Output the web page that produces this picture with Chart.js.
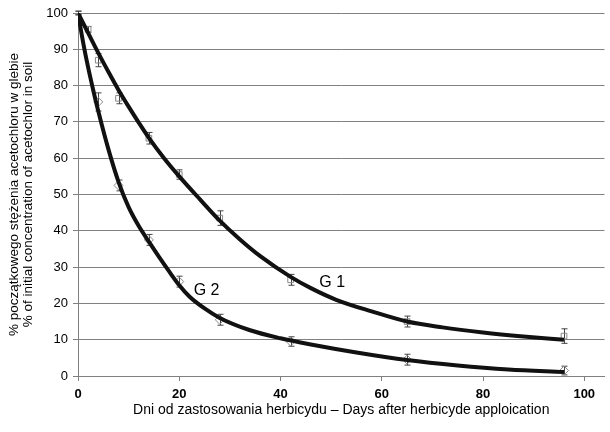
<!DOCTYPE html>
<html><head><meta charset="utf-8">
<script src="https://cdn.jsdelivr.net/npm/chart.js@4/dist/chart.umd.min.js"></script>
<style>html,body{margin:0;padding:0;background:#fff}#wrap{width:610px;height:432px;position:relative}</style>
</head><body><div id="wrap"><canvas id="c" width="610" height="432"></canvas></div>
<script>
const xTicks = [0, 20, 40, 60, 80, 100];
const yTicks = [0, 10, 20, 30, 40, 50, 60, 70, 80, 90, 100];

const g1Days   = [0, 2, 4, 8, 14, 20, 28, 42, 65, 96];
const g1Values = [100, 95.5, 87, 76.5, 65.5, 55.5, 43.5, 26.5, 15, 11];
const g1Errors = [0.5, 0.8, 1.8, 1.5, 1.6, 1.3, 2, 1.5, 1.5, 2];

const g2Days   = [0, 4, 8, 14, 20, 28, 42, 65, 96];
const g2Values = [100, 75.5, 52.5, 37.5, 26, 15.5, 9.5, 4.5, 1.5];
const g2Errors = [0.5, 2.5, 1.5, 1.5, 1.5, 1.5, 1.3, 1.5, 1.2];

const g1CurveDays   = [0, 2, 4, 6, 8, 10, 12, 14, 17, 20, 24, 28, 32, 36, 42, 46, 51, 58, 65, 72, 80, 88, 96];
const g1CurveValues = [100, 94.5, 89, 83.8, 78.8, 74.2, 69.8, 65.6, 60, 55, 48.8, 42.8, 37.6, 33, 27.3, 24.2, 21, 17.8, 15, 13.4, 12, 10.9, 10];

const g2CurveDays   = [0, 1, 2, 3, 4, 6, 8, 10, 12, 14, 16, 18, 20, 22, 25, 28, 34, 40, 46, 55, 65, 75, 85, 96];
const g2CurveValues = [100, 92, 85, 78.8, 73, 62.5, 53.5, 46.5, 41.3, 37, 32.8, 28.8, 25, 21.9, 18.6, 16, 12.6, 10.4, 8.7, 6.5, 4.4, 2.9, 1.8, 1.1];

const seriesLabels = [
  {text: 'G 1', day: 50.2, value: 25.6},
  {text: 'G 2', day: 25.4, value: 23.4}
];

const FONT = "'Liberation Sans', Arial, sans-serif";

const toPts = (xs, ys) => xs.map((x, i) => ({x, y: ys[i]}));

const errorBars = {
  id: 'errorBars',
  beforeDatasetsDraw(chart) {
    const {ctx, scales: {x, y}} = chart;
    ctx.save();
    ctx.strokeStyle = '#444';
    ctx.lineWidth = 1;
    const draw = (days, vals, errs) => {
      days.forEach((d, i) => {
        const px = Math.round(x.getPixelForValue(d)) + 0.5;
        const t = y.getPixelForValue(vals[i] + errs[i]);
        const b = y.getPixelForValue(vals[i] - errs[i]);
        ctx.beginPath();
        ctx.moveTo(px, t); ctx.lineTo(px, b);
        ctx.moveTo(px - 3, t); ctx.lineTo(px + 3, t);
        ctx.moveTo(px - 3, b); ctx.lineTo(px + 3, b);
        ctx.stroke();
      });
    };
    draw(g1Days, g1Values, g1Errors);
    draw(g2Days, g2Values, g2Errors);
    ctx.restore();
  },
  afterDatasetsDraw(chart) {
    const {ctx, scales: {x, y}} = chart;
    ctx.save();
    ctx.fillStyle = '#000';
    ctx.font = "16px " + FONT;
    ctx.textAlign = 'center';
    ctx.textBaseline = 'middle';
    seriesLabels.forEach(l => ctx.fillText(l.text, x.getPixelForValue(l.day), y.getPixelForValue(l.value)));
    ctx.restore();
  }
};

new Chart(document.getElementById('c'), {
  type: 'scatter',
  data: {
    datasets: [
      {data: toPts(g1CurveDays, g1CurveValues), showLine: true, borderColor: '#111', borderWidth: 4, pointRadius: 0, cubicInterpolationMode: 'monotone', order: 0},
      {data: toPts(g2CurveDays, g2CurveValues), showLine: true, borderColor: '#111', borderWidth: 4, pointRadius: 0, cubicInterpolationMode: 'monotone', order: 0},
      {data: toPts(g1Days, g1Values), pointStyle: 'rect', pointRadius: 4, borderWidth: 1, borderColor: '#888', backgroundColor: 'rgba(255,255,255,0)', order: 2},
      {data: toPts(g2Days, g2Values), pointStyle: 'rectRot', pointRadius: 4.5, borderWidth: 1, borderColor: '#888', backgroundColor: 'rgba(255,255,255,0)', order: 2}
    ]
  },
  options: {
    responsive: false,
    animation: false,
    devicePixelRatio: 1,
    layout: {padding: {top: 13, right: 0, bottom: 0, left: 0}},
    plugins: {legend: {display: false}, tooltip: {enabled: false}},
    scales: {
      x: {
        type: 'linear', min: 0, max: 104,
        afterBuildTicks: s => { s.ticks = xTicks.map(v => ({value: v})); },
        afterFit: s => { s.height = 56; },
        grid: {drawOnChartArea: false, drawTicks: true, tickLength: 5, color: '#808080'},
        border: {color: '#808080', width: 1},
        ticks: {font: {family: FONT, size: 13, weight: 'bold'}, color: '#000', padding: 6, maxRotation: 0},
        title: {display: true, text: 'Dni od zastosowania herbicydu – Days after herbicyde apploication', font: {family: FONT, size: 14}, color: '#000', padding: {top: 4, bottom: 13}}
      },
      y: {
        type: 'linear', min: 0, max: 100,
        afterBuildTicks: s => { s.ticks = yTicks.map(v => ({value: v})); },
        afterFit: s => { s.width = 78; },
        grid: {color: '#808080', tickLength: 5, lineWidth: 1},
        border: {color: '#808080', width: 1},
        ticks: {font: {family: FONT, size: 13}, color: '#000', padding: 5},
        title: {display: true, text: ['% początkowego stężenia acetochloru w glebie', '% of initial concentration of acetochlor in soil'], font: {family: FONT, size: 13.5, lineHeight: 1.0}, color: '#000', padding: {top: 8, bottom: 0}}
      }
    }
  },
  plugins: [errorBars]
});
</script>
</body></html>
